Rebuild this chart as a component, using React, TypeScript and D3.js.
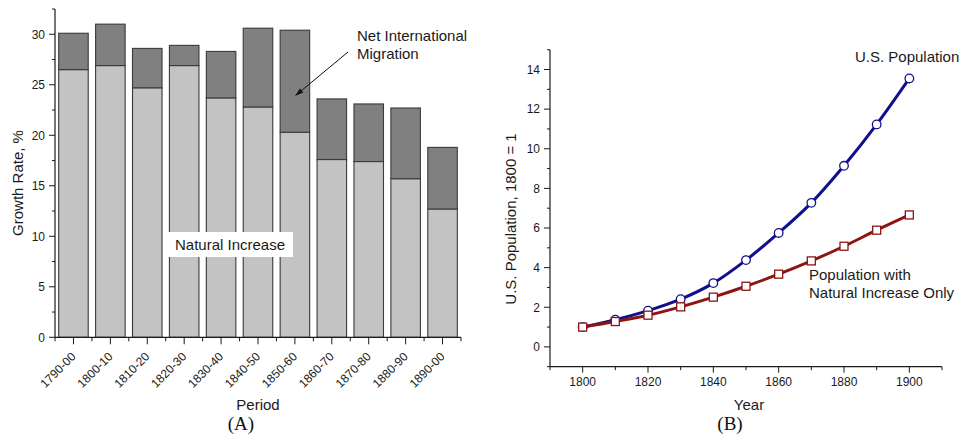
import React, { useRef, useEffect } from 'react';
import * as d3 from 'd3';

// Panel A: growth rate by decade
const periods = [
  '1790-00', '1800-10', '1810-20', '1820-30', '1830-40', '1840-50',
  '1850-60', '1860-70', '1870-80', '1880-90', '1890-00',
];
const naturalIncrease = [26.5, 26.9, 24.7, 26.9, 23.7, 22.8, 20.3, 17.6, 17.4, 15.7, 12.7];
const totalGrowth = [30.1, 31.0, 28.6, 28.9, 28.3, 30.6, 30.4, 23.6, 23.1, 22.7, 18.8];
const growthTicks = [0, 5, 10, 15, 20, 25, 30];

// Panel B: population index, 1800 = 1
const years = [1800, 1810, 1820, 1830, 1840, 1850, 1860, 1870, 1880, 1890, 1900];
const usPopulation = [1.0, 1.37, 1.83, 2.41, 3.22, 4.38, 5.75, 7.27, 9.14, 11.23, 13.55];
const naturalOnly = [1.0, 1.28, 1.6, 2.02, 2.51, 3.06, 3.67, 4.34, 5.08, 5.89, 6.66];
const yearTicks = [1800, 1820, 1840, 1860, 1880, 1900];
const popTicks = [0, 2, 4, 6, 8, 10, 12, 14];

const FONT = '"Liberation Sans", Arial, sans-serif';
const SERIF = '"Liberation Serif", "Times New Roman", serif';
const INK = '#1a1a1a';
const TICK_FS = '12px';
const TITLE_FS = '15px';

const App: React.FC = () => {
  const svgRef = useRef<SVGSVGElement>(null);

  useEffect(() => {
    if (!svgRef.current) return;
    const svg = d3.select(svgRef.current);
    svg.selectAll('*').remove();

    // ---------- Panel A ----------
    const a = svg.append('g');
    const xA = d3.scaleBand().domain(periods).range([55, 461]).paddingInner(0).paddingOuter(0);
    const yA = d3.scaleLinear().domain([0, 32.5]).range([337.3, 9]);
    const barW = xA.bandwidth() * 0.8;

    periods.forEach((p, i) => {
      const x0 = (xA(p) as number) + (xA.bandwidth() - barW) / 2;
      a.append('rect')
        .attr('x', x0)
        .attr('y', yA(naturalIncrease[i]))
        .attr('width', barW)
        .attr('height', yA(0) - yA(naturalIncrease[i]))
        .attr('fill', '#c3c3c3')
        .attr('stroke', '#3a3a3a')
        .attr('stroke-width', 1.1);
      a.append('rect')
        .attr('x', x0)
        .attr('y', yA(totalGrowth[i]))
        .attr('width', barW)
        .attr('height', yA(naturalIncrease[i]) - yA(totalGrowth[i]))
        .attr('fill', '#808080')
        .attr('stroke', '#3a3a3a')
        .attr('stroke-width', 1.1);
    });

    // axes A
    a.append('line')
      .attr('x1', 55).attr('x2', 55)
      .attr('y1', yA(32.5)).attr('y2', yA(0))
      .attr('stroke', INK).attr('stroke-width', 1.2);
    a.append('line')
      .attr('x1', 55).attr('x2', 461)
      .attr('y1', yA(0)).attr('y2', yA(0))
      .attr('stroke', INK).attr('stroke-width', 1.2);

    d3.range(0, 33, 2.5).forEach((v) => {
      const major = v % 5 === 0;
      a.append('line')
        .attr('x1', 55).attr('x2', major ? 49 : 52)
        .attr('y1', yA(v)).attr('y2', yA(v))
        .attr('stroke', INK).attr('stroke-width', 1);
    });
    growthTicks.forEach((v) => {
      a.append('text')
        .attr('x', 45)
        .attr('y', yA(v))
        .attr('dy', '0.36em')
        .attr('text-anchor', 'end')
        .attr('font-family', FONT)
        .attr('font-size', TICK_FS)
        .attr('fill', INK)
        .text(v);
    });

    periods.forEach((p, i) => {
      const cx = (xA(p) as number) + xA.bandwidth() / 2;
      a.append('line')
        .attr('x1', cx).attr('x2', cx)
        .attr('y1', yA(0)).attr('y2', yA(0) + 7)
        .attr('stroke', INK).attr('stroke-width', 1);
      const bx = xA(p) as number;
      a.append('line')
        .attr('x1', bx).attr('x2', bx)
        .attr('y1', yA(0)).attr('y2', yA(0) + 4)
        .attr('stroke', INK).attr('stroke-width', 1);
      if (i === periods.length - 1) {
        a.append('line')
          .attr('x1', bx + xA.bandwidth()).attr('x2', bx + xA.bandwidth())
          .attr('y1', yA(0)).attr('y2', yA(0) + 4)
          .attr('stroke', INK).attr('stroke-width', 1);
      }
      a.append('text')
        .attr('transform', `translate(${cx + 3},${yA(0) + 20}) rotate(-45)`)
        .attr('text-anchor', 'end')
        .attr('font-family', FONT)
        .attr('font-size', TICK_FS)
        .attr('fill', INK)
        .text(p);
    });

    a.append('text')
      .attr('transform', 'translate(22.5,183) rotate(-90)')
      .attr('text-anchor', 'middle')
      .attr('font-family', FONT)
      .attr('font-size', TITLE_FS)
      .attr('fill', INK)
      .text('Growth Rate, %');
    a.append('text')
      .attr('x', 258).attr('y', 410)
      .attr('text-anchor', 'middle')
      .attr('font-family', FONT)
      .attr('font-size', TITLE_FS)
      .attr('fill', INK)
      .text('Period');
    a.append('text')
      .attr('x', 241).attr('y', 430)
      .attr('text-anchor', 'middle')
      .attr('font-family', SERIF)
      .attr('font-size', '19px')
      .attr('fill', '#111')
      .text('(A)');

    // "Natural Increase" label on a white box
    a.append('rect')
      .attr('x', 168).attr('y', 232)
      .attr('width', 125).attr('height', 25)
      .attr('fill', '#fff');
    a.append('text')
      .attr('x', 230).attr('y', 250)
      .attr('text-anchor', 'middle')
      .attr('font-family', FONT)
      .attr('font-size', TITLE_FS)
      .attr('fill', INK)
      .text('Natural Increase');

    // migration annotation + arrow
    const mig = a.append('text')
      .attr('font-family', FONT)
      .attr('font-size', TITLE_FS)
      .attr('fill', INK);
    mig.append('tspan').attr('x', 357).attr('y', 40.5).text('Net International');
    mig.append('tspan').attr('x', 357).attr('y', 59).text('Migration');

    const ax1 = 348, ay1 = 52, ax2 = 295, ay2 = 96;
    const ang = Math.atan2(ay2 - ay1, ax2 - ax1);
    const hs = 9;
    a.append('line')
      .attr('x1', ax1).attr('y1', ay1)
      .attr('x2', ax2 - Math.cos(ang) * 6).attr('y2', ay2 - Math.sin(ang) * 6)
      .attr('stroke', '#111').attr('stroke-width', 1);
    a.append('polygon')
      .attr('points', [
        [ax2, ay2],
        [ax2 - hs * Math.cos(ang - 0.3), ay2 - hs * Math.sin(ang - 0.3)],
        [ax2 - hs * Math.cos(ang + 0.3), ay2 - hs * Math.sin(ang + 0.3)],
      ].map((q) => q.join(',')).join(' '))
      .attr('fill', '#111');

    // ---------- Panel B ----------
    const b = svg.append('g');
    const xB = d3.scaleLinear().domain([1790, 1910]).range([550, 942]);
    const yB = d3.scaleLinear().domain([-1, 15]).range([366.7, 49.7]);

    b.append('line')
      .attr('x1', 550).attr('x2', 550)
      .attr('y1', yB(15)).attr('y2', yB(-1))
      .attr('stroke', INK).attr('stroke-width', 1.2);
    b.append('line')
      .attr('x1', 550).attr('x2', xB(1910))
      .attr('y1', yB(-1)).attr('y2', yB(-1))
      .attr('stroke', INK).attr('stroke-width', 1.2);

    d3.range(-1, 16, 1).forEach((v) => {
      const major = popTicks.includes(v);
      b.append('line')
        .attr('x1', 550).attr('x2', major ? 544 : 547)
        .attr('y1', yB(v)).attr('y2', yB(v))
        .attr('stroke', INK).attr('stroke-width', 1);
    });
    popTicks.forEach((v) => {
      b.append('text')
        .attr('x', 540)
        .attr('y', yB(v))
        .attr('dy', '0.36em')
        .attr('text-anchor', 'end')
        .attr('font-family', FONT)
        .attr('font-size', TICK_FS)
        .attr('fill', INK)
        .text(v);
    });
    d3.range(1790, 1911, 10).forEach((v) => {
      const major = yearTicks.includes(v);
      b.append('line')
        .attr('x1', xB(v)).attr('x2', xB(v))
        .attr('y1', yB(-1)).attr('y2', yB(-1) + (major ? 6 : 3.5))
        .attr('stroke', INK).attr('stroke-width', 1);
    });
    yearTicks.forEach((v) => {
      b.append('text')
        .attr('x', xB(v))
        .attr('y', 386)
        .attr('text-anchor', 'middle')
        .attr('font-family', FONT)
        .attr('font-size', TICK_FS)
        .attr('fill', INK)
        .text(v);
    });

    b.append('text')
      .attr('transform', 'translate(516,219) rotate(-90)')
      .attr('text-anchor', 'middle')
      .attr('font-family', FONT)
      .attr('font-size', TITLE_FS)
      .attr('fill', INK)
      .text('U.S. Population, 1800 = 1');
    b.append('text')
      .attr('x', 749).attr('y', 410)
      .attr('text-anchor', 'middle')
      .attr('font-family', FONT)
      .attr('font-size', TITLE_FS)
      .attr('fill', INK)
      .text('Year');
    b.append('text')
      .attr('x', 730).attr('y', 430)
      .attr('text-anchor', 'middle')
      .attr('font-family', SERIF)
      .attr('font-size', '19px')
      .attr('fill', '#111')
      .text('(B)');

    const line = d3.line<number>()
      .x((_, i) => xB(years[i]))
      .y((d) => yB(d))
      .curve(d3.curveCatmullRom);

    const blue = '#10108f';
    const red = '#8e1414';

    b.append('path')
      .attr('d', line(usPopulation))
      .attr('fill', 'none')
      .attr('stroke', blue)
      .attr('stroke-width', 3);
    usPopulation.forEach((v, i) => {
      b.append('circle')
        .attr('cx', xB(years[i]))
        .attr('cy', yB(v))
        .attr('r', 4.3)
        .attr('fill', '#fff')
        .attr('stroke', blue)
        .attr('stroke-width', 1.3);
    });

    b.append('path')
      .attr('d', line(naturalOnly))
      .attr('fill', 'none')
      .attr('stroke', red)
      .attr('stroke-width', 3);
    naturalOnly.forEach((v, i) => {
      b.append('rect')
        .attr('x', xB(years[i]) - 4)
        .attr('y', yB(v) - 4)
        .attr('width', 8)
        .attr('height', 8)
        .attr('fill', '#fff')
        .attr('stroke', red)
        .attr('stroke-width', 1.3);
    });

    b.append('text')
      .attr('x', 855).attr('y', 61.5)
      .attr('font-family', FONT)
      .attr('font-size', TITLE_FS)
      .attr('fill', INK)
      .text('U.S. Population');
    const nat = b.append('text')
      .attr('font-family', FONT)
      .attr('font-size', TITLE_FS)
      .attr('fill', INK);
    nat.append('tspan').attr('x', 809).attr('y', 280).text('Population with');
    nat.append('tspan').attr('x', 809).attr('y', 298).text('Natural Increase Only');
  }, []);

  return (
    <div style={{ position: 'absolute', left: 0, top: 0 }}>
      <svg ref={svgRef} width={961} height={443} style={{ display: 'block', background: '#fff' }} />
    </div>
  );
};

export default App;
